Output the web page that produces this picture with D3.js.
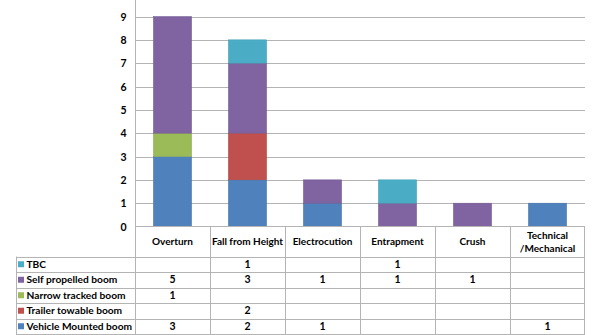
<!DOCTYPE html>
<html><head><meta charset="utf-8">
<script src="https://cdn.jsdelivr.net/npm/d3@7"></script>
<style>body{margin:0;background:#fff}svg{display:block}text{font-family:Lato,"Open Sans",sans-serif;font-weight:bold;fill:#000}</style>
</head><body><svg id="c" width="595" height="335"></svg>
<script>
const categories = ["Overturn","Fall from Height","Electrocution","Entrapment","Crush","Technical\n/Mechanical"];
const seriesNames = ["Vehicle Mounted boom","Trailer towable boom","Narrow tracked boom","Self propelled boom","TBC"];
const vehicleMounted = [3,2,1,0,0,1];
const trailerTowable = [0,2,0,0,0,0];
const narrowTracked = [1,0,0,0,0,0];
const selfPropelled = [5,3,1,1,1,0];
const tbc = [0,1,0,1,0,0];
const colors = ["#4F81BD","#C0504D","#9BBB59","#8064A2","#4BACC6"];
const yTicks = [0,1,2,3,4,5,6,7,8,9];
const values = [vehicleMounted,trailerTowable,narrowTracked,selfPropelled,tbc];

const svg = d3.select("#c");
const x = d3.scaleBand().domain(categories).range([135,585]).padding(0);
const y = d3.scaleLinear().domain([0,9]).range([226.5,16.5]);
const gridColor="#b4b4b4";
const fs="10.5px";

svg.append("g").selectAll("line").data(yTicks.slice(1)).join("line")
  .attr("x1",135).attr("x2",585).attr("y1",d=>Math.round(y(d))+0.5).attr("y2",d=>Math.round(y(d))+0.5)
  .attr("stroke",gridColor).attr("stroke-width",1);

const yAxis = d3.axisLeft(y).tickValues(yTicks).tickSize(0).tickPadding(9).tickFormat(d3.format("d"));
const ga = svg.append("g").attr("transform","translate(135.5,0)").call(yAxis);
ga.select(".domain").remove();
ga.selectAll("text").style("font-size",fs).attr("dy","0.35em");
svg.append("line").attr("x1",135.5).attr("x2",135.5).attr("y1",0).attr("y2",227).attr("stroke",gridColor);

const table = categories.map((c,i)=>{const o={cat:c}; seriesNames.forEach((s,j)=>o[s]=values[j][i]); return o;});
const stack = d3.stack().keys(seriesNames)(table);
const bw = x.bandwidth()*0.51;
svg.append("g").selectAll("g").data(stack).join("g").attr("fill",(d,i)=>colors[i])
  .selectAll("rect").data(d=>d.filter(p=>p[1]>p[0])).join("rect")
  .attr("x",d=>x(d.data.cat)+(x.bandwidth()-bw)/2)
  .attr("width",bw)
  .attr("y",d=>y(d[1]))
  .attr("height",d=>y(d[0])-y(d[1]))
  .attr("stroke",(d,i,n)=>d3.color(d3.select(n[i].parentNode).attr("fill")).darker(0.3))
  .attr("stroke-width",0.5);

svg.append("line").attr("x1",135).attr("x2",585).attr("y1",226.5).attr("y2",226.5).attr("stroke",gridColor);

const rowOrder = [4,3,2,1,0];
const headerTop=226.5, headerBottom=256.5, rowH=15.5, legendLeft=16.5;
const tg = svg.append("g");
categories.forEach((c,i)=>{
  tg.append("line").attr("x1",Math.round(x(c))+0.5).attr("x2",Math.round(x(c))+0.5).attr("y1",headerTop).attr("y2",335).attr("stroke",gridColor);
});
tg.append("line").attr("x1",584.5).attr("x2",584.5).attr("y1",headerTop).attr("y2",335).attr("stroke",gridColor);
tg.append("line").attr("x1",legendLeft).attr("x2",legendLeft).attr("y1",headerBottom).attr("y2",335).attr("stroke",gridColor);
for(let r=0;r<=5;r++){
  const yy=Math.round(headerBottom+r*rowH)+0.5;
  tg.append("line").attr("x1",legendLeft).attr("x2",585).attr("y1",yy).attr("y2",yy).attr("stroke",gridColor);
}
categories.forEach(c=>{
  const lines=c.split("\n");
  const cx=x(c)+x.bandwidth()/2;
  lines.forEach((l,k)=>{
    tg.append("text").attr("x",cx).attr("y",(headerTop+headerBottom)/2+(k-(lines.length-1)/2)*13).attr("dy","0.35em")
      .attr("text-anchor","middle").style("font-size","10px").text(l);
  });
});
rowOrder.forEach((si,r)=>{
  const cy=headerBottom+r*rowH+rowH/2;
  tg.append("rect").attr("x",18).attr("y",cy-3).attr("width",6).attr("height",6).attr("fill",colors[si]);
  tg.append("text").attr("x",26.5).attr("y",cy).attr("dy","0.35em").style("font-size","10.2px").text(seriesNames[si]);
  categories.forEach((c,i)=>{
    const v=values[si][i];
    if(v) tg.append("text").attr("x",x(c)+x.bandwidth()/2).attr("y",cy).attr("dy","0.35em").attr("text-anchor","middle").style("font-size",fs).text(v);
  });
});
</script></body></html>
